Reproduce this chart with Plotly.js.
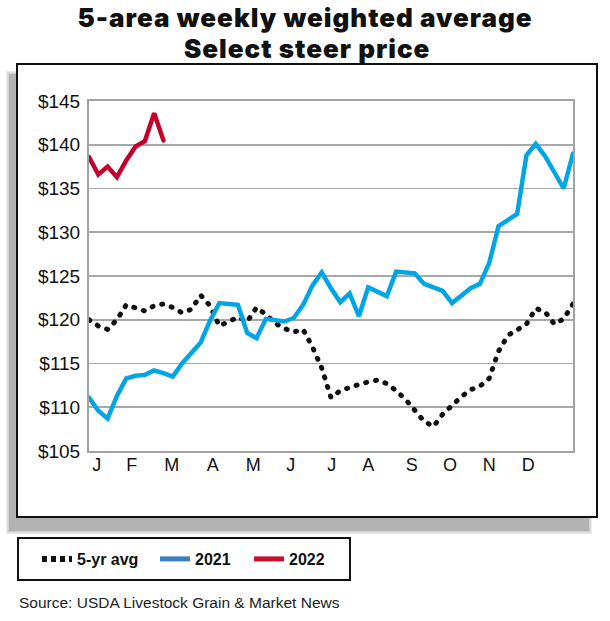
<!DOCTYPE html>
<html>
<head>
<meta charset="utf-8">
<script src="https://cdn.plot.ly/plotly-3.0.1.min.js"></script>
<style>
  html, body { margin: 0; padding: 0; background: #fff; }
  #chart { width: 610px; height: 621px; }
  .scatterlayer .js-line { stroke-linecap: round; }
  .gtitle, .annotation[data-index="0"] text { letter-spacing: 1px; }
</style>
</head>
<body>
<div id="chart"></div>
<script>
// ---------------- DATA ----------------
const TITLE_LINES = ['5-area weekly weighted average', 'Select steer price'];
const SOURCE_TEXT = 'Source: USDA Livestock Grain & Market News';
const MONTHS = ['J', 'F', 'M', 'A', 'M', 'J', 'J', 'A', 'S', 'O', 'N', 'D'];
const SERIES_NAMES = ['5-yr avg', '2021', '2022'];

// weekly prices, $/cwt (week 1 = first week of January)
const FIVE_YR_AVG = [
  120.0, 119.3, 118.9, 120.0, 121.7, 121.3, 121.0, 121.6, 121.8, 121.4,
  120.8, 121.2, 122.8, 121.6, 119.3, 119.8, 120.3, 119.8, 121.4, 120.6,
  119.6, 119.0, 118.6, 118.9, 116.9, 114.5, 111.1, 111.9, 112.3, 112.6,
  112.9, 113.1, 112.7, 111.9, 110.9, 109.6, 108.4, 107.8, 109.2, 110.2,
  111.2, 112.0, 112.4, 113.3, 116.4, 118.2, 118.8, 119.5, 121.3, 120.9,
  119.5, 120.1, 121.8
];
const PRICE_2021 = [
  111.1, 109.6, 108.7, 111.3, 113.3, 113.6, 113.7, 114.2, 113.9, 113.5,
  115.0, 116.2, 117.4, 119.9, 121.9, 121.8, 121.7, 118.5, 117.9, 120.1,
  119.9, 119.8, 120.2, 121.7, 123.9, 125.4, 123.6, 122.0, 123.0, 120.4,
  123.7, 123.2, 122.7, 125.5, 125.4, 125.3, 124.1, 123.7, 123.3, 121.9,
  122.8, 123.6, 124.1, 126.5, 130.7, 131.4, 132.1, 138.8, 140.1, 138.7,
  136.9, 135.0, 139.0
];
const PRICE_2022 = [138.6, 136.6, 137.5, 136.3, 138.2, 139.8, 140.4, 143.6, 140.5];

// ---------------- STYLE / LAYOUT ----------------
const weekNums = arr => arr.map((_, i) => i + 1);
const MONTH_TICK_POS = [1.83, 5.59, 9.89, 14.29, 18.65, 22.67, 27.08, 31.01, 35.67, 39.79, 44.01, 48.2];

const M = { l: 89, r: 37, t: 101, b: 170 };
const PW = 610 - M.l - M.r, PH = 621 - M.t - M.b;
const px2x = p => (p - M.l) / PW;
const py2y = p => (621 - M.b - p) / PH;

const AX_FONT = 'Liberation Sans, Arial, sans-serif';
const TITLE_FONT = { family: 'Inter, Roboto, sans-serif', size: 26, weight: 900, color: '#111' };
const LEG_FONT = { family: 'Liberation Sans, Arial, sans-serif', size: 16, color: '#111', weight: 'bold' };

const traces = [
  { x: weekNums(FIVE_YR_AVG), y: FIVE_YR_AVG, name: SERIES_NAMES[0], mode: 'lines', showlegend: false,
    line: { color: '#111111', width: 5, dash: '1px,9px' }, hoverinfo: 'skip' },
  { x: weekNums(PRICE_2021), y: PRICE_2021, name: SERIES_NAMES[1], mode: 'lines', showlegend: false,
    line: { color: '#00a6e4', width: 4.5 }, hoverinfo: 'skip' },
  { x: weekNums(PRICE_2022), y: PRICE_2022, name: SERIES_NAMES[2], mode: 'lines', showlegend: false,
    line: { color: '#c3002b', width: 4.5 }, hoverinfo: 'skip' },
  // legend entries
  { x: [null], y: [null], name: SERIES_NAMES[0], mode: 'lines', legend: 'legend',
    line: { color: '#111111', width: 6, dash: '5px,4px' } },
  { x: [null], y: [null], name: SERIES_NAMES[1], mode: 'lines', legend: 'legend2',
    line: { color: '#3e7fc0', width: 5 } },
  { x: [null], y: [null], name: SERIES_NAMES[2], mode: 'lines', legend: 'legend3',
    line: { color: '#c8102e', width: 5 } }
];

const legendBase = {
  orientation: 'h', xanchor: 'left', yanchor: 'middle', y: py2y(559),
  bgcolor: 'rgba(0,0,0,0)', borderwidth: 0, font: LEG_FONT, itemclick: false, itemdoubleclick: false
};

function rectPx(x0, y0, x1, y1, extra) {
  return Object.assign({ type: 'rect', xref: 'paper', yref: 'paper', layer: 'below',
    x0: px2x(x0), x1: px2x(x1), y0: py2y(y1), y1: py2y(y0) }, extra);
}

const shapes = [
  rectPx(6, 71, 592, 534, { fillcolor: 'rgba(170,170,170,0.25)', line: { width: 0 } }),
  rectPx(7.5, 72.5, 590.5, 532.5, { fillcolor: 'rgba(170,170,170,0.4)', line: { width: 0 } }),
  rectPx(9, 74, 589, 531, { fillcolor: '#b3b3b3', line: { width: 0 } }),
  rectPx(17, 64, 597, 517, { fillcolor: '#ffffff', line: { color: '#111', width: 2 } }),
  rectPx(18, 538, 350, 580, { fillcolor: 'rgba(0,0,0,0)', line: { color: '#111', width: 2 } })
];

const layout = {
  width: 610, height: 621,
  margin: M,
  paper_bgcolor: '#ffffff',
  plot_bgcolor: 'rgba(0,0,0,0)',
  title: {
    text: TITLE_LINES[0],
    font: TITLE_FONT,
    x: 0.5, xref: 'container', xanchor: 'center',
    y: 1 - 17.5 / 621, yref: 'container', yanchor: 'middle'
  },
  xaxis: {
    range: [1, 53], tickmode: 'array', tickvals: MONTH_TICK_POS, ticktext: MONTHS,
    showgrid: false, zeroline: false, showline: true, mirror: true,
    linecolor: '#a3a3a3', linewidth: 2, ticks: '', ticklabelstandoff: -4,
    tickfont: { family: AX_FONT, size: 18, color: '#111' }, fixedrange: true
  },
  yaxis: {
    range: [105, 145], tick0: 105, dtick: 5, tickprefix: '$',
    showgrid: true, gridcolor: '#a8a8a8', gridwidth: 1.6,
    zeroline: false, showline: true, mirror: true,
    linecolor: '#a3a3a3', linewidth: 2, ticks: '', ticklabelstandoff: 3,
    tickfont: { family: AX_FONT, size: 19, color: '#111' }, fixedrange: true
  },
  showlegend: true,
  legend: Object.assign({}, legendBase, { x: px2x(37) }),
  legend2: Object.assign({}, legendBase, { x: px2x(155) }),
  legend3: Object.assign({}, legendBase, { x: px2x(249) }),
  shapes: shapes,
  annotations: [
    { text: TITLE_LINES[1], xref: 'paper', yref: 'paper', x: px2x(307), y: py2y(48.5),
      xanchor: 'center', yanchor: 'middle', showarrow: false, font: TITLE_FONT },
    { text: SOURCE_TEXT, xref: 'paper', yref: 'paper', x: px2x(17), y: py2y(602),
      xanchor: 'left', yanchor: 'middle', showarrow: false,
      font: { family: AX_FONT, size: 15.5, color: '#222' } }
  ]
};

Plotly.newPlot('chart', traces, layout, { staticPlot: true, displayModeBar: false });
</script>
</body>
</html>
